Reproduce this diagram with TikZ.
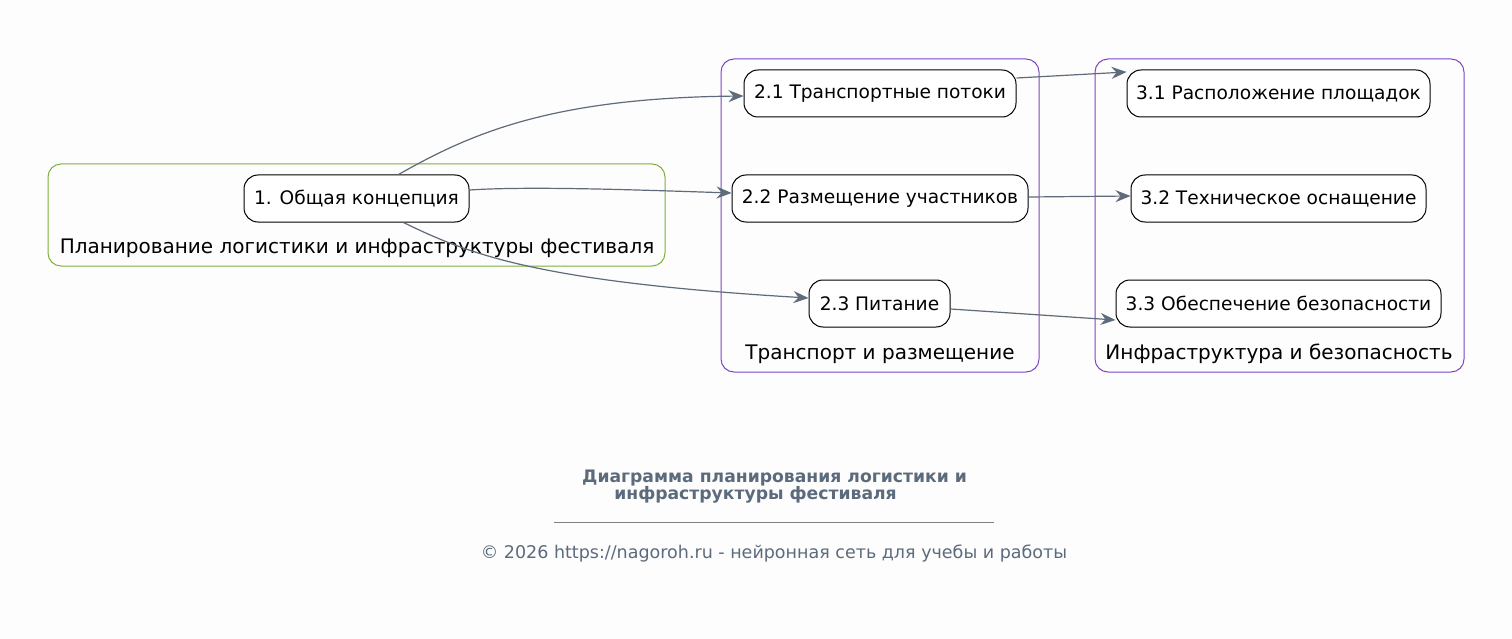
\documentclass[tikz,border=0pt]{standalone}
\usepackage{fontspec}
\setmainfont{DejaVu Sans}
\usetikzlibrary{arrows.meta,calc}
\definecolor{bg}{HTML}{FDFDFD}
\definecolor{edgec}{HTML}{5F6B7A}
\definecolor{greenc}{HTML}{7FB03A}
\definecolor{purplec}{HTML}{7B45C8}
\definecolor{titlec}{HTML}{5C6B7C}
\tikzset{
  box/.style={draw=black, line width=1pt, rounded corners=14pt, fill=white, minimum height=47pt, inner sep=0pt, font=\fontsize{18.6}{21}\selectfont},
  cluster/.style={line width=1pt, rounded corners=13pt},
  clabel/.style={font=\fontsize{20}{23}\selectfont, inner sep=0pt},
  conn/.style={draw=edgec, line width=1.2pt, -{Stealth[length=15pt,width=12pt,inset=5pt]}},
}
\begin{document}
\begin{tikzpicture}[x=1pt,y=-1pt]
\useasboundingbox[fill=bg] (0,0) rectangle (1512,639);
% clusters
\draw[cluster, draw=greenc] (48,164) rectangle (665,266);
\node[clabel] (c1lab) at (357,248) {Планирование логистики и инфраструктуры фестиваля};
\draw[cluster, draw=purplec] (721,59) rectangle (1039,372);
\node[clabel] (c2lab) at (880,354) {Транспорт и размещение};
\draw[cluster, draw=purplec] (1095,59) rectangle (1464,372);
\node[clabel] (c3lab) at (1279,354) {Инфраструктура и безопасность};
% nodes
\node[box, minimum width=225pt] (n1) at (356.5,198.5) {1. Общая концепция};
\node[box, minimum width=272pt] (n21) at (880,93.5) {2.1 Транспортные потоки};
\node[box, minimum width=296pt] (n22) at (880,198.5) {2.2 Размещение участников};
\node[box, minimum width=141pt] (n23) at (879.5,303.5) {2.3 Питание};
\node[box, minimum width=303pt] (n31) at (1278.5,93.5) {3.1 Расположение площадок};
\node[box, minimum width=295pt] (n32) at (1278.5,198.5) {3.2 Техническое оснащение};
\node[box, minimum width=325pt] (n33) at (1278.5,303.5) {3.3 Обеспечение безопасности};
% edges
\draw[conn] ($(n1.north)+(42,0)$) .. controls (470,134) and (550,98) .. ($(n21.west)+(0,2.5)$);
\draw[conn] ($(n1.east)+(0,-8.5)$) .. controls (530,186) and (640,190) .. ($(n22.west)+(0,-5.5)$);
\draw[conn] ($(n1.south)+(47,0)$) .. controls (470,255) and (540,282) .. ($(n23.west)+(0,-5.5)$);
\draw[conn] ($(n21.east)+(0,-15.5)$) -- ($(n31.west)+(0,-21.5)$);
\draw[conn] ($(n22.east)+(0,-1.5)$) -- ($(n32.west)+(0,-2.5)$);
\draw[conn] ($(n23.east)+(0,5.5)$) -- ($(n33.west)+(0,16.5)$);
% title and footer
\node[font=\bfseries\fontsize{17.2}{20}\selectfont, text=titlec, inner sep=0pt] (t1) at (774.5,478) {Диаграмма планирования логистики и};
\node[font=\bfseries\fontsize{17.2}{20}\selectfont, text=titlec, inner sep=0pt] (t2) at (755.5,495) {инфраструктуры фестиваля};
\coordinate (ra) at (554,522);
\coordinate (rb) at (994,522);
\draw[draw=gray, line width=0.6pt] (ra) -- (rb);
\node[font=\fontsize{17.5}{20}\selectfont, text=titlec, inner sep=0pt] (foot) at (774,554) {© 2026 https://nagoroh.ru - нейронная сеть для учебы и работы};
\end{tikzpicture}
\end{document}
